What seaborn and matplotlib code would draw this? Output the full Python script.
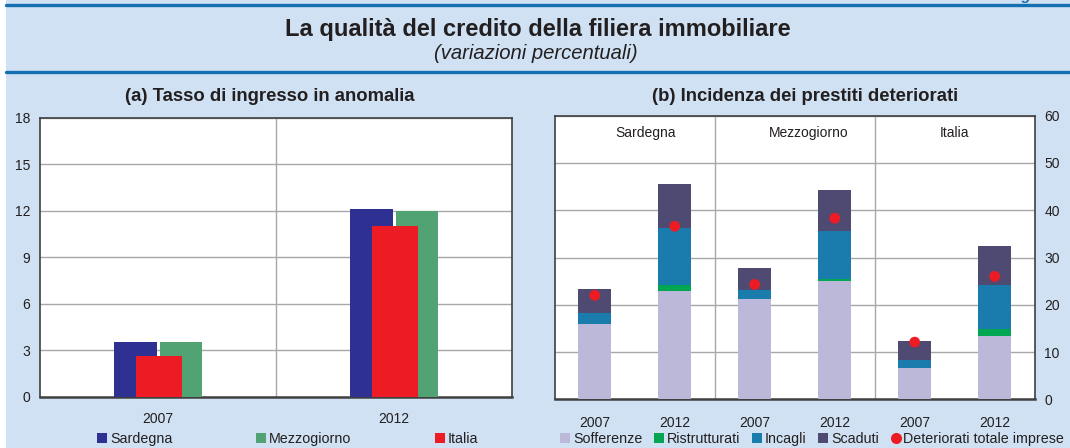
import numpy as np
import pandas as pd
import matplotlib
matplotlib.use("Agg")
import matplotlib.pyplot as plt
import seaborn as sns
from matplotlib.lines import Line2D
from matplotlib.patches import Rectangle, Patch

# ---------------- data ----------------
years = ["2007", "2012"]
# (a) Tasso di ingresso in anomalia
sardegna_a = [3.5, 12.1]
mezzogiorno_a = [3.5, 12.0]
italia_a = [2.6, 11.0]

# (b) Incidenza dei prestiti deteriorati
areas = ["Sardegna", "Mezzogiorno", "Italia"]
bar_years = ["2007", "2012", "2007", "2012", "2007", "2012"]
sofferenze = [15.9, 22.9, 21.2, 25.0, 6.6, 13.4]
ristrutturati = [0.0, 1.3, 0.0, 0.4, 0.0, 1.4]
incagli = [2.4, 12.0, 1.9, 10.3, 1.7, 9.4]
scaduti = [5.0, 9.4, 4.7, 8.5, 4.0, 8.2]
deteriorati_totale = [22.0, 36.6, 24.3, 38.3, 12.1, 26.0]

# ---------------- style ----------------
sns.set_theme(style="white")
plt.rcParams["font.family"] = ["Liberation Sans", "DejaVu Sans"]

BG = "#cfe1f2"
LINE_BLUE = "#1570b2"
FRAME = "#404040"
GRID = "#a8a8a8"
TXT = "#231f20"

C_SARD = "#2e3192"
C_MEZZ = "#52a373"
C_ITA = "#ed1c24"
C_SOFF = "#bcb8da"
C_RIST = "#00a651"
C_INC = "#1a7bad"
C_SCAD = "#4e4a72"
C_DOT = "#ed1c24"

FS_TICK = 10
FS_LEG = 10.3

W, H = 1070, 448
fig = plt.figure(figsize=(W / 100, H / 100), dpi=100, facecolor="white")

def fx(px):
    return px / W

def fy(py):
    return 1 - py / H

fig.patches.append(Rectangle((fx(6), 0), 1 - fx(6), 1, transform=fig.transFigure,
                             facecolor=BG, edgecolor="none", zorder=-10))
for yy in (5.5, 72):
    fig.add_artist(Line2D([fx(6), 1], [fy(yy), fy(yy)], transform=fig.transFigure,
                          color=LINE_BLUE, lw=2.4))

fig.text(fx(1068), fy(3), "Figura 7", ha="right", va="bottom", color=LINE_BLUE,
         fontsize=11, fontweight="bold", style="italic")
fig.text(fx(538), fy(36), "La qualità del credito della filiera immobiliare",
         ha="center", va="baseline", fontsize=17, fontweight="bold", color=TXT)
fig.text(fx(536), fy(59), "(variazioni percentuali)", ha="center", va="baseline",
         fontsize=14.6, style="italic", color=TXT)
fig.text(fx(270), fy(101), "(a) Tasso di ingresso in anomalia", ha="center", va="baseline",
         fontsize=13.3, fontweight="bold", color=TXT)
fig.text(fx(805), fy(101), "(b) Incidenza dei prestiti deteriorati", ha="center",
         va="baseline", fontsize=13.3, fontweight="bold", color=TXT)

# ---------------- panel (a) ----------------
axa = fig.add_axes([fx(40), fy(396.7), fx(512) - fx(40), fy(117.7) - fy(396.7)])
axa.set_facecolor("white")
pos = np.arange(len(years))
offs = {"Sardegna": -0.095, "Mezzogiorno": 0.097, "Italia": 0.003}
widths = {"Sardegna": 0.18, "Mezzogiorno": 0.18, "Italia": 0.195}
series_a = [("Sardegna", sardegna_a, C_SARD), ("Mezzogiorno", mezzogiorno_a, C_MEZZ),
            ("Italia", italia_a, C_ITA)]
for name, vals, col in series_a:
    df = pd.DataFrame({"x": pos + offs[name], "y": vals})
    sns.barplot(data=df, x="x", y="y", native_scale=True, orient="x", width=widths[name],
                color=col, saturation=1, errorbar=None, linewidth=0, ax=axa, zorder=3)
axa.set_xlim(-0.5, 1.5)
axa.set_ylim(0, 18)
axa.set_yticks(np.arange(0, 19, 3))
axa.set_xticks(pos)
axa.set_xticklabels(years)
axa.set_xlabel("")
axa.set_ylabel("")
axa.yaxis.grid(True, color=GRID, lw=1.0, zorder=0)
axa.set_axisbelow(True)
axa.axvline(0.5, color=GRID, lw=1.0, zorder=1)
axa.tick_params(axis="both", length=0, labelsize=FS_TICK, labelcolor=TXT)
axa.tick_params(axis="x", pad=11)
axa.tick_params(axis="y", pad=7)
for s in axa.spines.values():
    s.set_color(FRAME)
    s.set_linewidth(1.2)
axa.spines["bottom"].set_linewidth(1.8)

leg_a = [Patch(facecolor=c, edgecolor="none", label=n) for n, _, c in series_a]
fig.legend(handles=leg_a, loc="lower left", ncol=3, mode="expand",
           bbox_to_anchor=(fx(97), fy(446), fx(478) - fx(97), 0.04),
           frameon=False, fontsize=FS_LEG, handlelength=0.7, handleheight=0.7,
           handletextpad=0.2, borderaxespad=0, borderpad=0, labelcolor=TXT)

# ---------------- panel (b) ----------------
axb = fig.add_axes([fx(554.7), fy(399.3), fx(1034.7) - fx(554.7), fy(115.7) - fy(399.3)])
axb.set_facecolor("white")
xb = np.arange(len(bar_years))
stack = np.cumsum(np.array([sofferenze, ristrutturati, incagli, scaduti]), axis=0)
cols_b = [C_SOFF, C_RIST, C_INC, C_SCAD]
for level in range(3, -1, -1):
    df = pd.DataFrame({"x": xb, "y": stack[level]})
    sns.barplot(data=df, x="x", y="y", native_scale=True, orient="x", width=0.41,
                color=cols_b[level], saturation=1, errorbar=None, linewidth=0,
                ax=axb, zorder=3)
dfd = pd.DataFrame({"x": xb, "y": deteriorati_totale})
sns.scatterplot(data=dfd, x="x", y="y", color=C_DOT, s=60, edgecolor="none",
                ax=axb, zorder=5, legend=False)
axb.set_xlim(-0.5, 5.5)
axb.set_ylim(0, 60)
axb.set_yticks(np.arange(0, 61, 10))
axb.set_xticks(xb)
axb.set_xticklabels(bar_years)
axb.set_xlabel("")
axb.set_ylabel("")
axb.yaxis.tick_right()
axb.yaxis.grid(True, color=GRID, lw=1.0, zorder=0)
axb.set_axisbelow(True)
for b in (1.5, 3.5):
    axb.axvline(b, color=GRID, lw=1.0, zorder=1)
for xc, name in zip([0.64, 2.67, 4.5], areas):
    axb.text(xc, 56.3, name, ha="center", va="center", fontsize=FS_TICK, color=TXT)
axb.tick_params(axis="both", length=0, labelsize=FS_TICK, labelcolor=TXT)
axb.tick_params(axis="x", pad=12)
axb.tick_params(axis="y", pad=7)
for s in axb.spines.values():
    s.set_color(FRAME)
    s.set_linewidth(1.2)
axb.spines["bottom"].set_linewidth(1.8)

leg_b = [Patch(facecolor=c, edgecolor="none", label=n) for n, c in
         zip(["Sofferenze", "Ristrutturati", "Incagli", "Scaduti"], cols_b)]
leg_b.append(Line2D([], [], marker="o", linestyle="none", markersize=8,
                    markerfacecolor=C_DOT, markeredgecolor="none",
                    label="Deteriorati totale imprese"))
fig.legend(handles=leg_b, loc="lower left", ncol=5,
           bbox_to_anchor=(fx(560), fy(446)),
           frameon=False, fontsize=FS_LEG, handlelength=0.7, handleheight=0.7,
           handletextpad=0.2, columnspacing=0.82, borderaxespad=0, borderpad=0,
           labelcolor=TXT)

fig.savefig("out.png", dpi=100, facecolor=fig.get_facecolor())
